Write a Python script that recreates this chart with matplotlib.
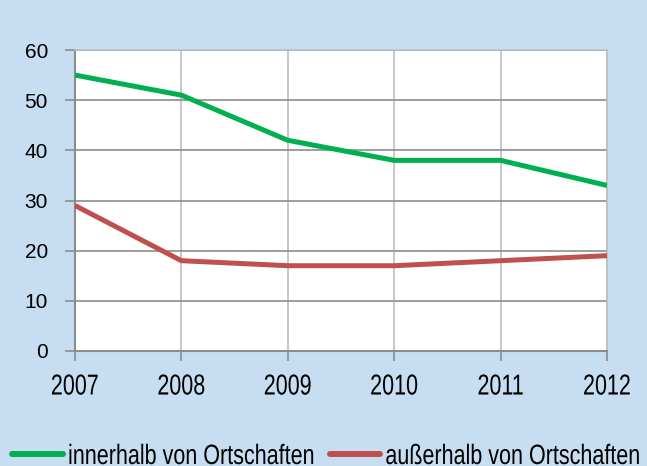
import matplotlib.pyplot as plt
from matplotlib.patheffects import AbstractPathEffect
from matplotlib.transforms import Affine2D

years = [2007, 2008, 2009, 2010, 2011, 2012]
innerhalb = [55, 51, 42, 38, 38, 33]
ausserhalb = [29, 18, 17, 17, 18, 19]
labels = ["innerhalb von Ortschaften", "außerhalb von Ortschaften"]
yticks = [0, 10, 20, 30, 40, 50, 60]

bg = '#C6DDF2'
green = '#00B050'
red = '#C0504D'

plt.rcParams['font.family'] = ['Liberation Sans', 'DejaVu Sans']


class VStretch(AbstractPathEffect):
    # the source picture has its text squeezed sideways, so stretch it up
    def __init__(self, factor):
        super().__init__()
        self.factor = factor

    def draw_path(self, renderer, gc, tpath, affine, rgbFace=None):
        box = tpath.get_extents(affine)
        cy = (box.y0 + box.y1) / 2
        affine = affine + Affine2D().translate(0, -cy).scale(
            1, self.factor).translate(0, cy)
        renderer.draw_path(gc, tpath, affine, rgbFace)


def main():
    fig = plt.figure(figsize=(6.47, 4.66), dpi=100, facecolor=bg)
    ax = fig.add_axes([75 / 647, 1 - 351 / 466, 532 / 647, 301 / 466])
    ax.set_facecolor('white')

    ax.plot(years, innerhalb, color=green, lw=3.6, solid_capstyle='butt',
            solid_joinstyle='round', label=labels[0], zorder=3)
    ax.plot(years, ausserhalb, color=red, lw=3.6, solid_capstyle='butt',
            solid_joinstyle='round', label=labels[1], zorder=3)

    ax.set_xlim(years[0], years[-1])
    ax.set_ylim(0, 60)
    ax.set_xticks(years)
    ax.set_yticks(yticks)

    ax.yaxis.grid(True, color='#8C8C8C', lw=1.2)
    ax.xaxis.grid(True, color='#BFBFBF', lw=1.2)
    ax.set_axisbelow(True)

    for side in ('left', 'bottom'):
        ax.spines[side].set_color('#8C8C8C')
        ax.spines[side].set_linewidth(1.5)
    for side in ('right', 'top'):
        ax.spines[side].set_color('#BFBFBF')
        ax.spines[side].set_linewidth(1.2)

    ax.tick_params(axis='y', length=7, width=1.2, color='#8C8C8C', pad=12.5,
                   labelsize=15)
    ax.tick_params(axis='x', length=7, width=1.2, color='#8C8C8C', pad=11,
                   labelsize=15.5)
    for tick in ax.xaxis.get_major_ticks():
        tick.label1.set_path_effects([VStretch(1.34)])

    leg = fig.legend(loc='lower left', bbox_to_anchor=(0.006, -0.02), ncol=2,
                     frameon=False, handlelength=2.33, handletextpad=0.25,
                     columnspacing=0.75, borderaxespad=0,
                     prop={'size': 15.5})
    for line in leg.get_lines():
        line.set_linewidth(4.3)
        line.set_solid_capstyle('round')
    for text in leg.get_texts():
        text.set_path_effects([VStretch(1.3)])

    fig.savefig('out.png', dpi=100, facecolor=bg)


if __name__ == '__main__':
    main()
